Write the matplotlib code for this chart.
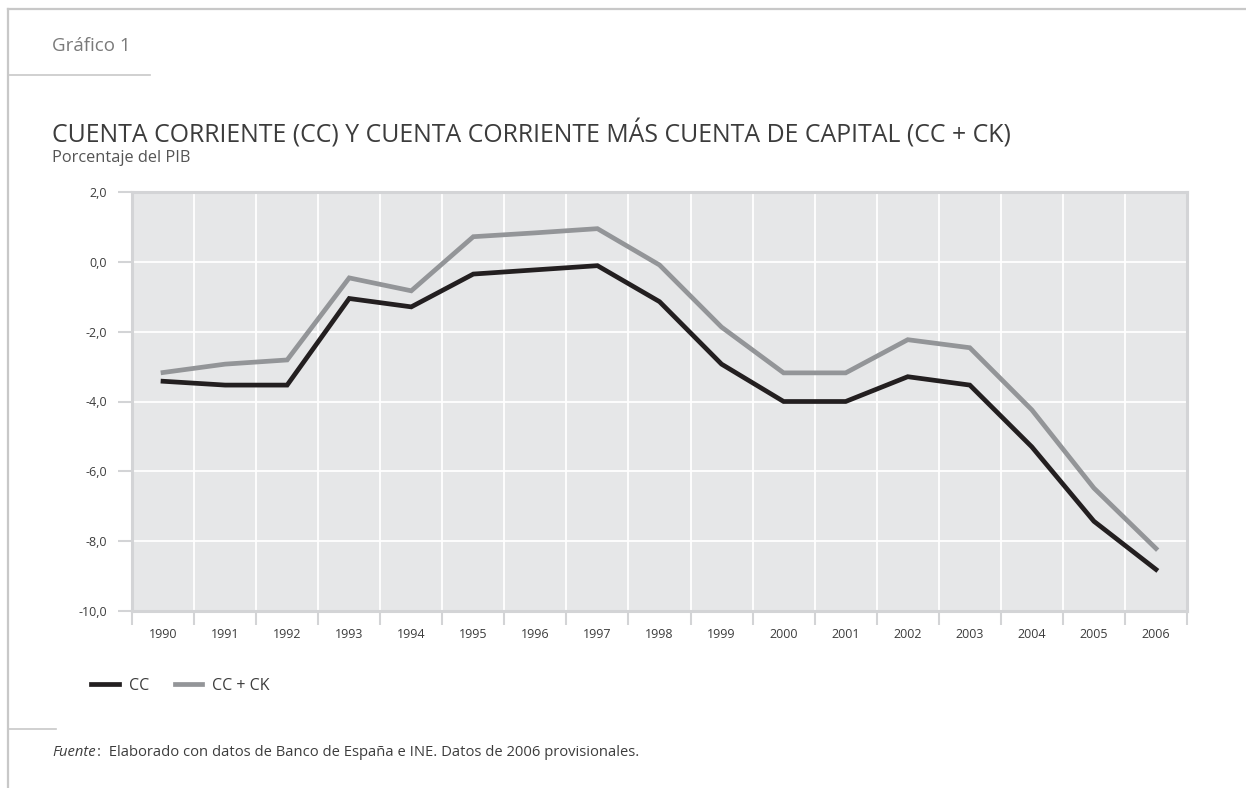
import matplotlib
matplotlib.use("Agg")
import matplotlib.pyplot as plt
from matplotlib.lines import Line2D
import numpy as np

plt.rcParams['font.family'] = ['Open Sans', 'DejaVu Sans']

years = ["1990", "1991", "1992", "1993", "1994", "1995", "1996", "1997", "1998",
         "1999", "2000", "2001", "2002", "2003", "2004", "2005", "2006"]
cc = [-3.42, -3.53, -3.53, -1.05, -1.29, -0.35, -0.23, -0.11, -1.14,
      -2.93, -4.00, -4.00, -3.29, -3.53, -5.30, -7.43, -8.81]
cc_ck = [-3.17, -2.93, -2.81, -0.46, -0.83, 0.72, 0.83, 0.95, -0.09,
         -1.87, -3.18, -3.18, -2.23, -2.46, -4.24, -6.48, -8.21]
yticks = [2.0, 0.0, -2.0, -4.0, -6.0, -8.0, -10.0]

W, H = 1246, 788
fig = plt.figure(figsize=(W / 100, H / 100), dpi=100)
fig.patch.set_facecolor("white")

frame_col = "#c8c8c8"
text_dark = "#3c3c3c"


def fx(px):
    return px / W


def fy(py):
    return 1 - py / H


# page frame lines
fig.add_artist(Line2D([fx(8), fx(W)], [fy(9), fy(9)], color=frame_col, lw=1.6))
fig.add_artist(Line2D([fx(8), fx(8)], [fy(9), fy(H)], color=frame_col, lw=1.6))
fig.add_artist(Line2D([fx(8), fx(150)], [fy(75), fy(75)], color=frame_col, lw=1.2))
fig.add_artist(Line2D([fx(8), fx(56)], [fy(729), fy(729)], color=frame_col, lw=1.2))

# header texts
fig.text(fx(52), fy(46), "Gráfico 1", color="#7a7a7a", fontsize=13.5, va="center", ha="left")
fig.text(fx(52), fy(134), "CUENTA CORRIENTE (CC) Y CUENTA CORRIENTE MÁS CUENTA DE CAPITAL (CC + CK)",
         color=text_dark, fontsize=17.9, va="center", ha="left")
fig.text(fx(52), fy(158), "Porcentaje del PIB", color="#555555", fontsize=11.8, va="center", ha="left")

# plot area
ax = fig.add_axes([fx(132), fy(611), fx(1187) - fx(132), fy(192) - fy(611)])
ax.set_facecolor("#e6e7e8")
x = np.arange(len(years))

ax.set_xlim(-0.5, len(years) - 0.5)
ax.set_ylim(-10, 2)

# white grid
for b in np.arange(0.5, len(years) - 0.5, 1.0):
    ax.axvline(b, color="white", lw=1.3, zorder=1)
for v in yticks[1:-1]:
    ax.axhline(v, color="white", lw=1.3, zorder=1)

ax.plot(x, cc_ck, color="#939598", lw=3.4, solid_joinstyle="miter", zorder=3, label="CC + CK")
ax.plot(x, cc, color="#231f20", lw=3.4, solid_joinstyle="miter", zorder=4, label="CC")

spine_col = "#d3d4d6"
for side in ["left", "right", "top", "bottom"]:
    ax.spines[side].set_color(spine_col)
    ax.spines[side].set_linewidth(2.2)

ax.set_yticks(yticks)
ax.set_yticklabels([f"{v:.1f}".replace(".", ",") for v in yticks])
ax.tick_params(axis="y", length=10, width=1.5, color=spine_col, labelsize=9,
               labelcolor=text_dark, pad=8)

ax.set_xticks(x)
ax.set_xticklabels(years)
ax.tick_params(axis="x", length=0, labelsize=9, labelcolor=text_dark, pad=12)
ax.set_xticks(np.arange(-0.5, len(years), 1.0), minor=True)
ax.tick_params(axis="x", which="minor", length=10, width=1.5, color=spine_col)

# legend
handles = [Line2D([], [], color="#231f20", lw=3.4), Line2D([], [], color="#939598", lw=3.4)]
fig.legend(handles, ["CC", "CC + CK"], loc="center left", bbox_to_anchor=(fx(77), fy(686)),
           ncol=2, frameon=False, fontsize=11.5, handlelength=1.7, handletextpad=0.65,
           columnspacing=1.6, labelcolor=text_dark)

# source note: italic label followed by the note text
fig.canvas.draw()
renderer = fig.canvas.get_renderer()
lab = fig.text(fx(52), fy(752), "Fuente", style="italic", color=text_dark, fontsize=10.6,
               va="center", ha="left")
bb = lab.get_window_extent(renderer=renderer)
fig.text(bb.x1 / W + 0.0008, fy(752),
         ":  Elaborado con datos de Banco de España e INE. Datos de 2006 provisionales.",
         color=text_dark, fontsize=10.6, va="center", ha="left")

fig.savefig("out.png", dpi=100, facecolor="white")
